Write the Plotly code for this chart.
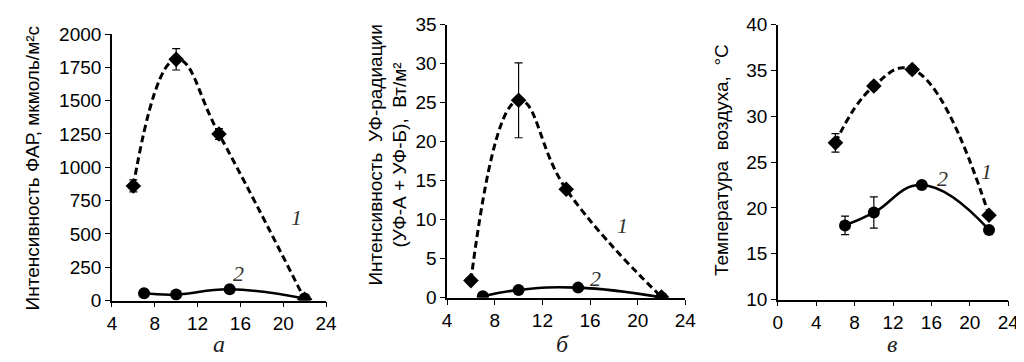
import plotly.graph_objects as go

# ---- data ----
# Panel a: PAR intensity
a_x1 = [6, 10, 14, 22]
a_y1 = [860, 1810, 1250, 10]
a_e1 = [45, 80, 40, 0]
a_x2 = [7, 10, 15, 22]
a_y2 = [55, 45, 85, 15]

# Panel b: UV intensity
b_x1 = [6, 10, 14, 22]
b_y1 = [2.2, 25.3, 13.9, 0.1]
b_e1 = [0.3, 4.8, 0.4, 0]
b_x2 = [7, 10, 15, 22]
b_y2 = [0.2, 1.0, 1.3, 0.05]

# Panel c: air temperature
c_x1 = [6, 10, 14, 22]
c_y1 = [27.1, 33.3, 35.1, 19.2]
c_e1 = [1.0, 0.4, 0.4, 0.3]
c_x2 = [7, 10, 15, 22]
c_y2 = [18.1, 19.5, 22.5, 17.6]
c_e2 = [1.0, 1.7, 0, 0]

a_yticks = [0, 250, 500, 750, 1000, 1250, 1500, 1750, 2000]
b_yticks = [0, 5, 10, 15, 20, 25, 30, 35]
c_yticks = [10, 15, 20, 25, 30, 35, 40]
ab_xticks = [4, 8, 12, 16, 20, 24]
c_xticks = [0, 4, 8, 12, 16, 20, 24]

W, H = 1024, 362

def px(xl, xr):
    return [xl / W, xr / W]

def py(top, bottom):
    return [1 - bottom / H, 1 - top / H]

dash = "7px,4px"
fig = go.Figure()

def add_series(xs, ys, errs, sym, dashed, xa, ya):
    err = None
    if errs is not None:
        err = dict(type="data", array=errs, visible=True, color="black",
                   thickness=1.2, width=4)
    fig.add_trace(go.Scatter(
        x=xs, y=ys, mode="lines+markers", xaxis=xa, yaxis=ya,
        line=dict(color="black", width=3 if dashed else 2.6,
                  dash=dash if dashed else "solid", shape="spline", smoothing=1.3),
        marker=dict(symbol=sym, size=12, color="black"),
        error_y=err, showlegend=False))

add_series(a_x1, a_y1, a_e1, "diamond", True, "x", "y")
add_series(a_x2, a_y2, None, "circle", False, "x", "y")
add_series(b_x1, b_y1, b_e1, "diamond", True, "x2", "y2")
add_series(b_x2, b_y2, None, "circle", False, "x2", "y2")
add_series(c_x1, c_y1, c_e1, "diamond", True, "x3", "y3")
add_series(c_x2, c_y2, c_e2, "circle", False, "x3", "y3")

tickfont = dict(family="Liberation Sans, Arial", size=19, color="black")
axcommon = dict(showline=True, linecolor="black", linewidth=1.5, ticks="outside",
                ticklen=5, tickwidth=1.3, tickcolor="black", showgrid=False,
                zeroline=False, tickfont=tickfont, mirror=False)

fig.update_layout(
    width=W, height=H, margin=dict(l=0, r=0, t=0, b=0),
    paper_bgcolor="white", plot_bgcolor="white",
    xaxis=dict(domain=px(100.5, 318), range=[4, 24], tickvals=ab_xticks,
               anchor="y", **axcommon),
    yaxis=dict(domain=py(17, 300), range=[0, 2000], tickvals=a_yticks,
               anchor="x", **axcommon),
    xaxis2=dict(domain=px(441, 683), range=[4, 24], tickvals=ab_xticks,
                anchor="y2", **axcommon),
    yaxis2=dict(domain=py(7, 297), range=[0, 35], tickvals=b_yticks,
                anchor="x2", **axcommon),
    xaxis3=dict(domain=px(777, 1011), range=[0, 24], tickvals=c_xticks,
                anchor="y3", **axcommon),
    yaxis3=dict(domain=py(7, 299), range=[10, 40], tickvals=c_yticks,
                anchor="x3", **axcommon),
)

titlefont = dict(family="Liberation Sans, Arial", size=19, color="black")
serif = dict(family="Liberation Serif, Times New Roman", size=22, color="#333333")
letterfont = dict(family="Liberation Serif, Times New Roman", size=24, color="#222222")

ann = []
# axis titles
ann.append(dict(text="Интенсивность ФАР, мкмоль/м²с", x=20 / W, y=1 - 160 / H,
                xref="paper", yref="paper", textangle=-90, showarrow=False,
                font=titlefont, xanchor="center", yanchor="middle"))
ann.append(dict(text="Интенсивность  УФ-радиации<br>(УФ-А + УФ-Б),  Вт/м²",
                x=380 / W, y=1 - 146 / H,
                xref="paper", yref="paper", textangle=-90, showarrow=False,
                font=titlefont, xanchor="center", yanchor="middle"))
ann.append(dict(text="Температура  воздуха,  °C", x=719 / W, y=1 - 151 / H,
                xref="paper", yref="paper", textangle=-90, showarrow=False,
                font=titlefont, xanchor="center", yanchor="middle"))
# curve labels
for txt, xx, yy, xr, yr in [("1", 21.2, 622, "x", "y"), ("2", 15.8, 205, "x", "y"),
                             ("1", 18.7, 9.3, "x2", "y2"), ("2", 16.5, 2.5, "x2", "y2"),
                             ("1", 21.7, 24.0, "x3", "y3"), ("2", 17.2, 23.2, "x3", "y3")]:
    ann.append(dict(text="<i>%s</i>" % txt, x=xx, y=yy, xref=xr, yref=yr,
                    showarrow=False, font=serif))
# panel letters
for txt, xx in [("а", 209), ("б", 558), ("в", 893)]:
    ann.append(dict(text="<i>%s</i>" % txt, x=xx / W, y=1 - 362 / H, xref="paper",
                    yref="paper", showarrow=False, font=letterfont,
                    xanchor="center", yanchor="bottom"))
fig.update_layout(annotations=ann)

fig.write_html("out.html")
